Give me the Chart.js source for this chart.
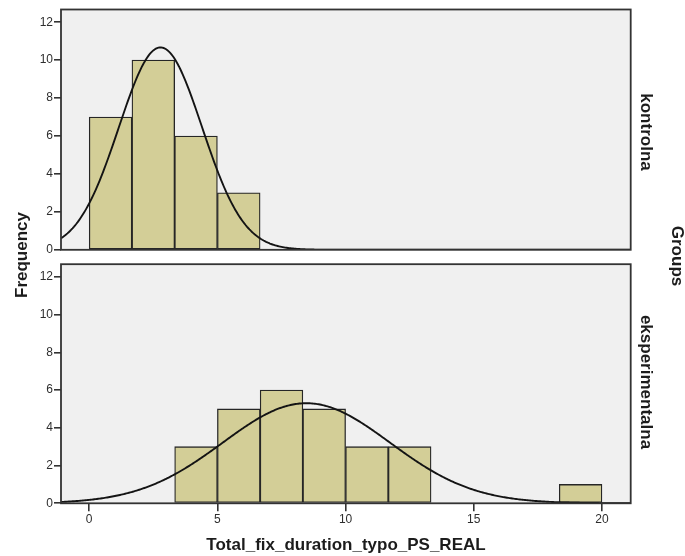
<!DOCTYPE html>
<html>
<head>
<meta charset="utf-8">
<script src="https://cdn.jsdelivr.net/npm/chart.js@4.4.0/dist/chart.umd.min.js"></script>
<style>
  html, body { margin: 0; padding: 0; background: #ffffff; }
  #wrap { position: relative; width: 685px; height: 556px; overflow: hidden;
          font-family: "Liberation Sans", Arial, sans-serif; }
  #wrap canvas { position: absolute; left: 0; }
  .lbl { position: absolute; width: 0; height: 0; }
  .lbl span { position: absolute; left: 0; top: 0; white-space: nowrap;
              font-weight: bold; font-size: 17px; color: #1c1c1c;
              transform: translate(-50%, -50%); }
  .lbl.down span { transform: translate(-50%, -50%) rotate(90deg); }
  .lbl.up span { transform: translate(-50%, -50%) rotate(-90deg); }
</style>
</head>
<body>
<div id="wrap">
  <canvas id="top" width="685" height="258" style="top:0px"></canvas>
  <canvas id="bottom" width="685" height="300" style="top:256px"></canvas>
  <div class="lbl up" style="left:22px; top:255px"><span id="yTitle"></span></div>
  <div class="lbl down" style="left:677px; top:256px"><span id="groupTitle"></span></div>
  <div class="lbl down" style="left:646px; top:131.5px"><span id="panelTop"></span></div>
  <div class="lbl down" style="left:646px; top:382px"><span id="panelBottom"></span></div>
  <div class="lbl" style="left:346px; top:545px"><span id="xTitle"></span></div>
</div>
<script>
// Histogram bins: lower edges of the 12 bins spanning 0..20
const binWidth = 20 / 12;
const binLower = [0, 1.667, 3.333, 5, 6.667, 8.333, 10, 11.667, 13.333, 15, 16.667, 18.333];

// Frequencies per bin for each group
const kontrolnaCounts       = [7, 10, 6, 3, 0, 0, 0, 0, 0, 0, 0, 0];
const eksperimentalnaCounts = [0, 0, 3, 5, 6, 5, 3, 3, 0, 0, 0, 1];

// Normal-curve parameters (mean, standard deviation) for each group
const kontrolnaNormal       = { mean: 2.78, sd: 1.62 };
const eksperimentalnaNormal = { mean: 8.47, sd: 3.26 };

// Axis ticks and labels
const xTicks = [0, 5, 10, 15, 20];
const yTicks = [0, 2, 4, 6, 8, 10, 12];
const groupNames = ['kontrolna', 'eksperimentalna'];
const xTitleText = 'Total_fix_duration_typo_PS_REAL';
const yTitleText = 'Frequency';
const groupTitleText = 'Groups';

document.getElementById('yTitle').textContent = yTitleText;
document.getElementById('groupTitle').textContent = groupTitleText;
document.getElementById('panelTop').textContent = groupNames[0];
document.getElementById('panelBottom').textContent = groupNames[1];
document.getElementById('xTitle').textContent = xTitleText;

const X_MIN = -1.1, X_MAX = 21.12, Y_MAX = 12.67;
const FONT = '"Liberation Sans", Arial, sans-serif';

function barPoints(counts) {
  return counts.map((c, i) => ({ x: binLower[i] + binWidth / 2, y: c > 0 ? c : null }));
}

// Fitted normal curve scaled to the histogram (N * bin width * density)
function normalCurve(counts, p) {
  const n = counts.reduce((a, b) => a + b, 0);
  const pts = [];
  for (let x = X_MIN; x <= X_MAX + 1e-9; x += 0.05) {
    const z = (x - p.mean) / p.sd;
    pts.push({ x: x, y: n * binWidth * Math.exp(-0.5 * z * z) / (p.sd * Math.sqrt(2 * Math.PI)) });
  }
  return pts;
}

const panelFrame = {
  id: 'panelFrame',
  beforeDatasetsDraw(chart) {
    const a = chart.chartArea, ctx = chart.ctx;
    ctx.save();
    ctx.fillStyle = '#f0f0f0';
    ctx.fillRect(a.left, a.top, a.right - a.left, a.bottom - a.top);
    ctx.restore();
  },
  afterDraw(chart) {
    const a = chart.chartArea, ctx = chart.ctx;
    ctx.save();
    ctx.strokeStyle = '#333333';
    ctx.lineWidth = 1.8;
    ctx.strokeRect(a.left, a.top, a.right - a.left, a.bottom - a.top);
    ctx.restore();
  }
};

function makePanel(id, counts, normal, showX, padding, xHeight) {
  return new Chart(document.getElementById(id), {
    data: {
      datasets: [
        {
          type: 'line',
          data: normalCurve(counts, normal),
          borderColor: '#141414',
          borderWidth: 1.9,
          pointRadius: 0,
          tension: 0,
          fill: false,
          order: 0
        },
        {
          type: 'bar',
          data: barPoints(counts),
          backgroundColor: '#d3ce97',
          borderColor: '#262626',
          borderWidth: 1.3,
          borderSkipped: false,
          barPercentage: 1,
          categoryPercentage: 1,
          order: 1
        }
      ]
    },
    options: {
      responsive: false,
      animation: false,
      events: [],
      layout: { padding: padding },
      plugins: { legend: { display: false }, tooltip: { enabled: false } },
      scales: {
        x: {
          type: 'linear',
          min: X_MIN,
          max: X_MAX,
          offset: false,
          display: showX,
          afterBuildTicks: s => { s.ticks = xTicks.map(v => ({ value: v })); },
          afterFit: s => { s.height = xHeight; },
          border: { display: false },
          grid: { display: true, drawOnChartArea: false, drawTicks: true, tickLength: 8,
                  color: '#333333', lineWidth: 1.6, offset: false },
          ticks: { padding: 1, color: '#2e2e2e', maxRotation: 0, autoSkip: false,
                   font: { family: FONT, size: 12 } }
        },
        y: {
          type: 'linear',
          min: 0,
          max: Y_MAX,
          afterBuildTicks: s => { s.ticks = yTicks.map(v => ({ value: v })); },
          afterFit: s => { s.width = 61; },
          border: { display: false },
          grid: { display: true, drawOnChartArea: false, drawTicks: true, tickLength: 7,
                  color: '#333333', lineWidth: 1.6 },
          ticks: { padding: 1, color: '#2e2e2e', autoSkip: false,
                   font: { family: FONT, size: 12 } }
        }
      }
    },
    plugins: [panelFrame]
  });
}

makePanel('top', kontrolnaCounts, kontrolnaNormal, false,
          { left: 0, right: 54.3, top: 9.5, bottom: 4.7 }, 0);
makePanel('bottom', eksperimentalnaCounts, eksperimentalnaNormal, true,
          { left: 0, right: 54.3, top: 4, bottom: 0 }, 52.7);
</script>
</body>
</html>
